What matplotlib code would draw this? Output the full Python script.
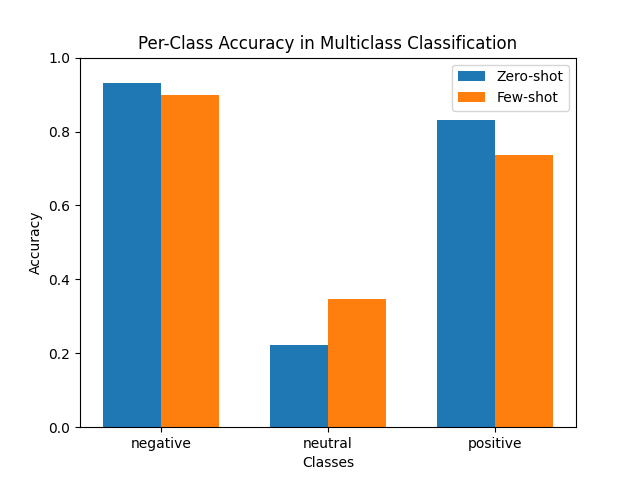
import matplotlib
matplotlib.use("Agg")
import matplotlib.pyplot as plt
import numpy as np

classes = ["negative", "neutral", "positive"]
zero_shot = [0.93, 0.222, 0.832]
few_shot = [0.90, 0.347, 0.737]

x = np.arange(len(classes))
width = 0.35

fig, ax = plt.subplots(figsize=(6.4, 4.8), dpi=100)
ax.bar(x - width / 2, zero_shot, width, label="Zero-shot")
ax.bar(x + width / 2, few_shot, width, label="Few-shot")
ax.set_xlabel("Classes")
ax.set_ylabel("Accuracy")
ax.set_title("Per-Class Accuracy in Multiclass Classification")
ax.set_xticks(x)
ax.set_xticklabels(classes)
ax.set_ylim(0, 1)
ax.legend()
fig.savefig("out.png")
